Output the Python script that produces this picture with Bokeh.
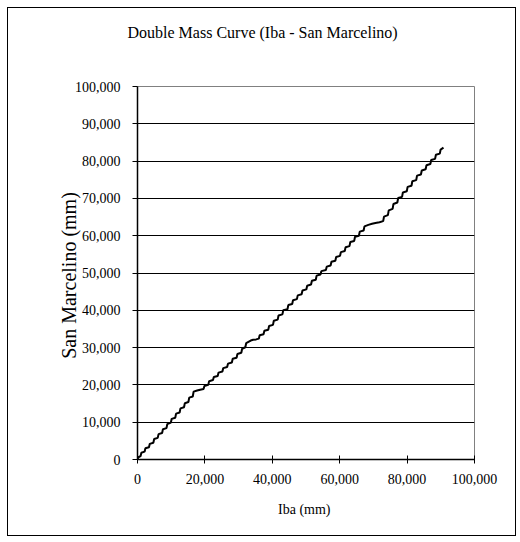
from bokeh.plotting import figure
from bokeh.models import Range1d, NumeralTickFormatter, FixedTicker, Title
from bokeh.embed import file_html
from bokeh.resources import INLINE

# Cumulative rainfall (mm)
iba_cum = [0, 250, 900, 1150, 2100, 2350, 3400, 3650, 4700, 4950, 6000, 6250, 7300, 7550,
           8600, 8850, 9900, 10150, 11200, 11450, 12500, 12750, 13800, 14050, 15100, 15350,
           16400, 16650, 17700, 18600, 19600, 19850, 21000, 21250, 22400, 22650,
           23800, 24050, 25200, 25450, 26600, 26850, 28000, 28250, 29400, 29650, 30800,
           31050, 32000, 32250, 33600, 34300, 35200, 36000,
           36250, 37400, 37650, 38800, 39050, 40200, 40450, 41600, 41850, 43000, 43250, 44500,
           44750, 45900, 46150, 47300, 47550, 48700, 48950, 50100, 50350, 51500, 51750,
           52900, 53150, 54300, 54550, 55900,
           56150, 57300, 57550, 58700, 58950, 60100, 60350, 61500, 61750, 62900, 63150,
           64300, 64550, 65700, 65950, 67100, 67350, 68500,
           69600, 70600, 71800, 72900,
           73150, 74300, 74550, 75700, 75950, 77100, 77350, 78500, 78750, 79900, 80150,
           81300, 81550, 82700, 82950, 84100, 84350, 85500, 85750, 86900, 87150, 88300,
           88550, 89700, 89950, 90800]
sanmarcelino_cum = [0, 600, 900, 1800, 2100, 3000, 3300, 4200, 4500, 5500, 5800, 6800, 7100, 8100,
                    8400, 9500, 9900, 10900, 11200, 12300, 12600, 13700, 14000, 15100, 15400, 16600,
                    16900, 18200, 18500, 18700, 18900, 19700, 20000, 21000, 21300, 22100,
                    22400, 23300, 23600, 24500, 24800, 25700, 26000, 27000, 27300, 28300, 28600,
                    29700, 30100, 31200, 31900, 32100, 32200, 32400,
                    33300, 33600, 34500, 34800, 35800, 36100, 37200, 37500, 38600, 38900, 40000, 40300,
                    41400, 41700, 42700, 43000, 44000, 44300, 45300, 45600, 46600, 46900, 47900,
                    48200, 49300, 49600, 50500, 50800,
                    51700, 52000, 53000, 53300, 54300, 54600, 55600, 55900, 56900, 57200, 58300,
                    58600, 59700, 60000, 61100, 61400, 62500, 62900,
                    63200, 63400, 63600, 63900,
                    65100, 65500, 66800, 67200, 68500, 68900, 70100, 70400, 71600, 71900, 73100,
                    73400, 74600, 74900, 76100, 76400, 77500, 77800, 78900, 79200, 80300, 80600,
                    81700, 82000, 83100, 83600]

x_ticks = [0, 20000, 40000, 60000, 80000, 100000]
y_ticks = [0, 10000, 20000, 30000, 40000, 50000, 60000, 70000, 80000, 90000, 100000]

TITLE = "Double Mass Curve (Iba - San Marcelino)"
FONT = "Liberation Serif"
W, H = 509, 529

p = figure(width=W, height=H, output_backend="svg", toolbar_location=None,
           x_range=Range1d(0, 100000), y_range=Range1d(0, 100000),
           min_border_left=129, min_border_right=43, min_border_top=78, min_border_bottom=78,
           title=TITLE)
p.styles = {"border": "1px solid black", "box-sizing": "border-box",
            "margin": "7px 0px 0px 7px"}

# blank spacer panel between the frame and the title
p.add_layout(Title(text=" ", text_font_size="16px", standoff=27), "above")

p.title.align = "left"
p.title.offset = -10
p.title.text_font = FONT
p.title.text_font_size = "16px"
p.title.text_font_style = "normal"
p.title.text_color = "black"
p.title.standoff = 0

p.background_fill_color = "white"
p.border_fill_color = "white"
p.outline_line_color = "gray"
p.outline_line_width = 1

p.line(iba_cum, sanmarcelino_cum, line_color="black", line_width=2)

p.xgrid.visible = False
p.ygrid.ticker = FixedTicker(ticks=y_ticks)
p.ygrid.grid_line_color = "black"
p.ygrid.grid_line_width = 1
p.ygrid.grid_line_alpha = 1

xa = p.xaxis[0]
xa.ticker = FixedTicker(ticks=x_ticks)
xa.formatter = NumeralTickFormatter(format="0,0")
xa.axis_label = "Iba  (mm)"
xa.major_tick_in = 4
xa.major_tick_out = 4
xa.minor_tick_line_color = None
xa.major_label_standoff = 10

ya = p.yaxis[0]
ya.ticker = FixedTicker(ticks=y_ticks)
ya.formatter = NumeralTickFormatter(format="0,0")
ya.axis_label = "San Marcelino  (mm)"
ya.major_tick_in = 0
ya.major_tick_out = 5
ya.minor_tick_line_color = None
ya.major_label_standoff = 12

for ax in (xa, ya):
    ax.axis_line_color = "black"
    ax.axis_line_width = 1.5
    ax.major_tick_line_color = "black"
    ax.major_label_text_font = FONT
    ax.major_label_text_font_size = "14px"
    ax.major_label_text_color = "black"
    ax.axis_label_text_font = FONT
    ax.axis_label_text_font_style = "normal"
    ax.axis_label_text_color = "black"

xa.axis_label_text_font_size = "14px"
xa.axis_label_standoff = 15
ya.axis_label_text_font_size = "20px"
ya.axis_label_standoff = -8

open("out.html", "w").write(file_html(p, INLINE))
